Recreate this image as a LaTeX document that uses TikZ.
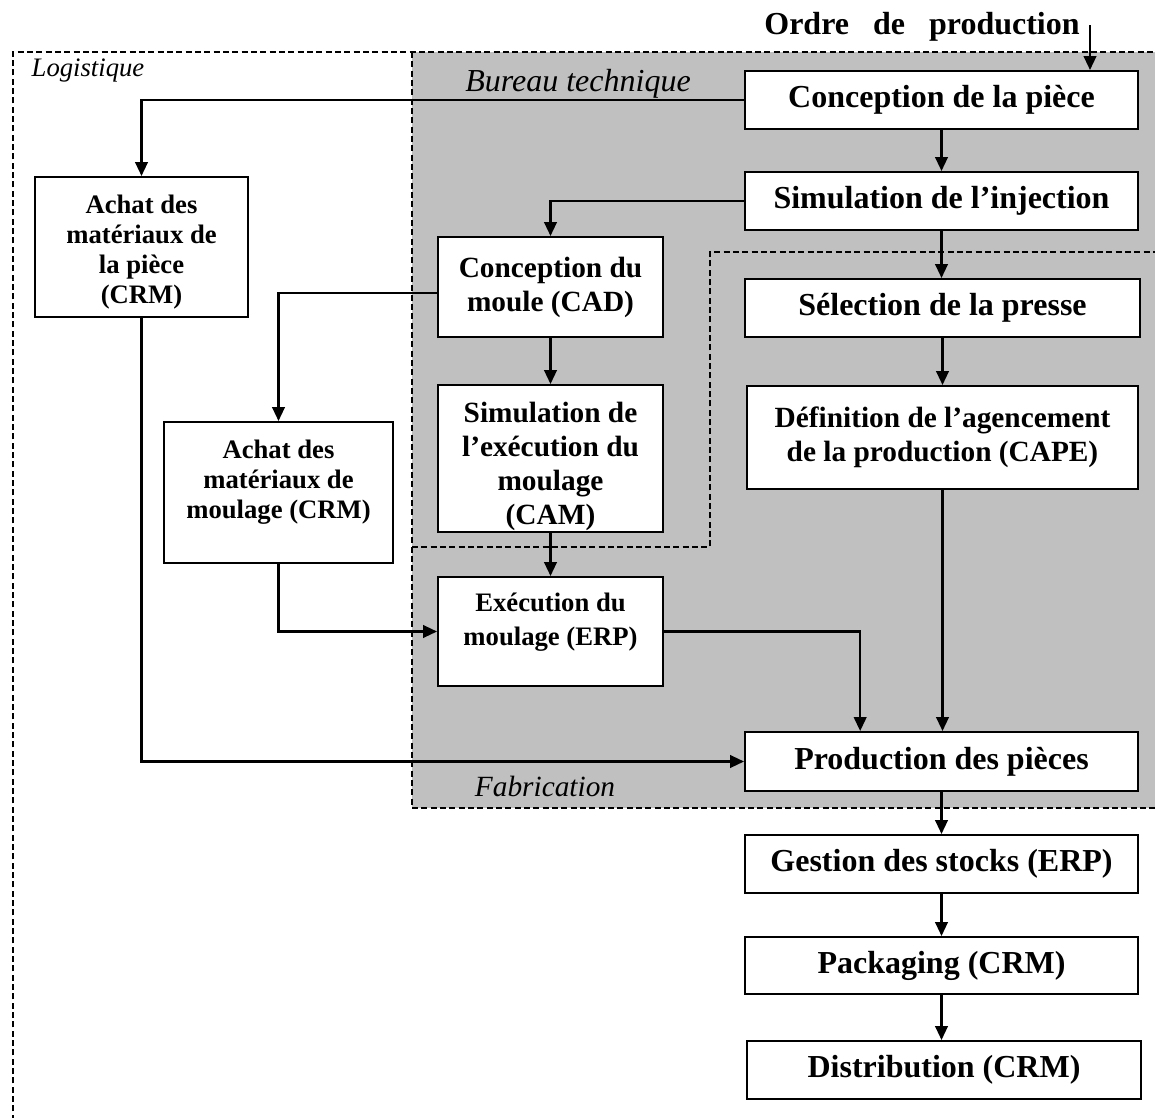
\documentclass[tikz,border=0pt]{standalone}
\usepackage{fontspec}
\setmainfont{Liberation Serif}
\usepackage{tikz}
\usetikzlibrary{arrows.meta,positioning,calc}
\definecolor{zonegray}{HTML}{C0C0C0}

\begin{document}
\begin{tikzpicture}[
x=0.75pt,
y=-0.75pt,
every node/.style={font=\bfseries\fontsize{24}{27}\selectfont},
bloc/.style={rectangle,draw,line width=1.5pt,fill=white,align=center,inner sep=1pt},
big/.style={bloc,minimum width=294.75pt,minimum height=43.5pt},
mid/.style={bloc,font=\bfseries\fontsize{22}{25.5}\selectfont},
small/.style={bloc,font=\bfseries\fontsize{20}{22.5}\selectfont},
zone/.style={line width=1pt,dash pattern=on 4.5pt off 2.5pt},
arr/.style={-{Triangle[length=10.5pt,width=9.5pt]},line width=1.6pt},
lbl/.style={font=\itshape\fontsize{24}{27}\selectfont,inner sep=0pt}
]
\useasboundingbox (0,0) rectangle (1155,1117);
\clip (0,0) rectangle (1155,1117);

% zones
\fill[zonegray] (412,52) rectangle (1170,808);
\draw[zone] (13,1130) -- (13,52) -- (1170,52);
\draw[zone] (412,52) -- (412,808) -- (1170,808);
\draw[zone] (412,547) -- (710,547) -- (710,252) -- (1170,252);

\node[lbl,font=\itshape\fontsize{20}{24}\selectfont] (logi) at (88,71) {Logistique};
\node[lbl] (bureau) at (578,84) {Bureau technique};
\node[lbl,font=\itshape\fontsize{22}{26}\selectfont] (fab) at (545,786) {Fabrication};

% blocs
\node (ordre) at (922,27) {Ordre\hspace{12pt} de\hspace{12pt} production};
\node[big] (piece) at (941.5,100) {Conception de la pièce};
\node[big] (siminj) at (941.5,201) {Simulation de l’injection};
\node[mid,minimum width=168.75pt,minimum height=75pt] (moule) at (550.5,287) {Conception du\\moule (CAD)};
\node[big,minimum width=296.25pt] (presse) at (942.5,308) {Sélection de la presse};
\node[mid,minimum width=168.75pt,minimum height=108.75pt] (simexec) at (550.5,458.5) {\rule{0pt}{27pt}Simulation de\\l’exécution du\\moulage\\(CAM)};
\node[mid,minimum width=293.25pt,minimum height=77.25pt] (agenc) at (942.5,437.5) {Définition de l’agencement\\de la production (CAPE)};
\node[small,minimum width=159.75pt,minimum height=105pt] (achatp) at (141.5,247) {\rule{0pt}{21pt}Achat des\\matériaux de\\la pièce\\(CRM)};
\node[small,minimum width=171.75pt,minimum height=105.75pt] (achatm) at (278.5,492.5) {\rule{0pt}{17pt}Achat des\\matériaux de\\moulage (CRM)\\\mbox{}};
\node[small,font=\bfseries\fontsize{20}{25.5}\selectfont,minimum width=168.75pt,minimum height=81.75pt] (exec) at (550.5,631.5) {Exécution du\\moulage (ERP)\\[-7pt]\mbox{}};
\node[big,minimum height=44.25pt] (prod) at (941.5,761.5) {Production des pièces};
\node[big] (stock) at (941.5,864) {Gestion des stocks (ERP)};
\node[big,minimum height=42.75pt] (pack) at (941.5,965.5) {Packaging (CRM)};
\node[big,minimum width=295.5pt] (distr) at (944,1070) {Distribution (CRM)};

% liaisons
\coordinate (ordin) at (1090,25);
\draw[arr] (ordin) -- (ordin |- piece.north);
\draw[arr] (piece.west) -| (achatp.north);
\draw[arr] (piece) -- (siminj);
\draw[arr] (siminj.west) -| (moule.north);
\draw[arr] (siminj.south) -- (siminj.south |- presse.north);
\draw[arr] ([yshift=-4.5pt]moule.west) -| (achatm.north);
\draw[arr] (moule) -- (simexec);
\draw[arr] (presse) -- (agenc);
\draw[arr] (simexec) -- (exec);
\draw[arr] (achatm.south) |- (exec.west);
\draw[arr] (exec.east) -| ([xshift=-61pt]prod.north);
\draw[arr] (agenc.south) -- (agenc.south |- prod.north);
\draw[arr] (achatp.south) |- (prod.west);
\draw[arr] (prod) -- (stock);
\draw[arr] (stock) -- (pack);
\draw[arr] (pack.south) -- (pack.south |- distr.north);
\end{tikzpicture}
\end{document}
